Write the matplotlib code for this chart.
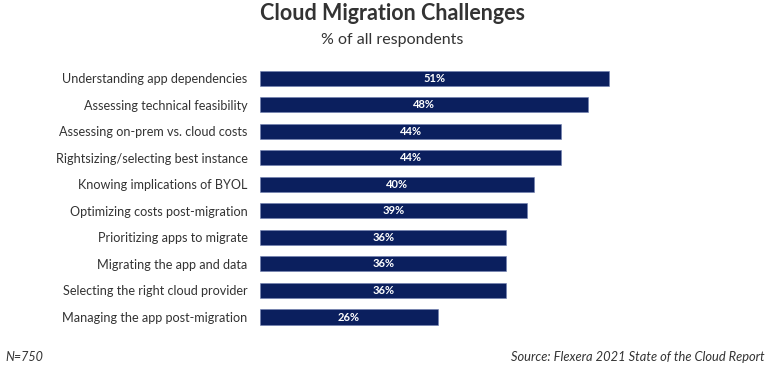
import matplotlib.pyplot as plt

challenges = [
    "Understanding app dependencies",
    "Assessing technical feasibility",
    "Assessing on-prem vs. cloud costs",
    "Rightsizing/selecting best instance",
    "Knowing implications of BYOL",
    "Optimizing costs post-migration",
    "Prioritizing apps to migrate",
    "Migrating the app and data",
    "Selecting the right cloud provider",
    "Managing the app post-migration",
]
percent = [51, 48, 44, 44, 40, 39, 36, 36, 36, 26]

navy = "#0b1f5e"
plt.rcParams['font.family'] = ['Lato', 'DejaVu Sans']

fig = plt.figure(figsize=(7.68, 3.67), dpi=100)
ax = fig.add_axes([260 / 768, 0.100, 460 / 768, 0.7234])

y = range(len(challenges))
ax.barh(y, percent, height=0.57, color=navy, edgecolor="#6f7fb0", linewidth=0.4)
for i, v in enumerate(percent):
    ax.text(v / 2, i, f"{v}%", color="white", fontsize=8, fontweight="bold",
            ha="center", va="center")

ax.set_xlim(0, 460 / 6.84)
ax.set_ylim(len(challenges) - 0.5, -0.5)
ax.set_yticks(list(y))
ax.set_yticklabels(challenges, fontsize=9.1, color="#333333")
ax.tick_params(axis="y", length=0, pad=9)
ax.set_xticks([])
for s in ax.spines.values():
    s.set_visible(False)

fig.text(392 / 768, 1 - 14 / 367, "Cloud Migration Challenges", ha="center", va="center",
         fontsize=15.5, fontweight="bold", color="#333333")
fig.text(392 / 768, 1 - 40 / 367, "% of all respondents", ha="center", va="center",
         fontsize=11.5, color="#333333")
fig.text(5 / 768, 1 - 357 / 367, "N=750", ha="left", va="center",
         fontsize=9, style="italic", color="#333333")
fig.text(765 / 768, 1 - 357 / 367, "Source: Flexera 2021 State of the Cloud Report",
         ha="right", va="center", fontsize=9.3, style="italic", color="#333333")

fig.savefig("out.png", dpi=100)
